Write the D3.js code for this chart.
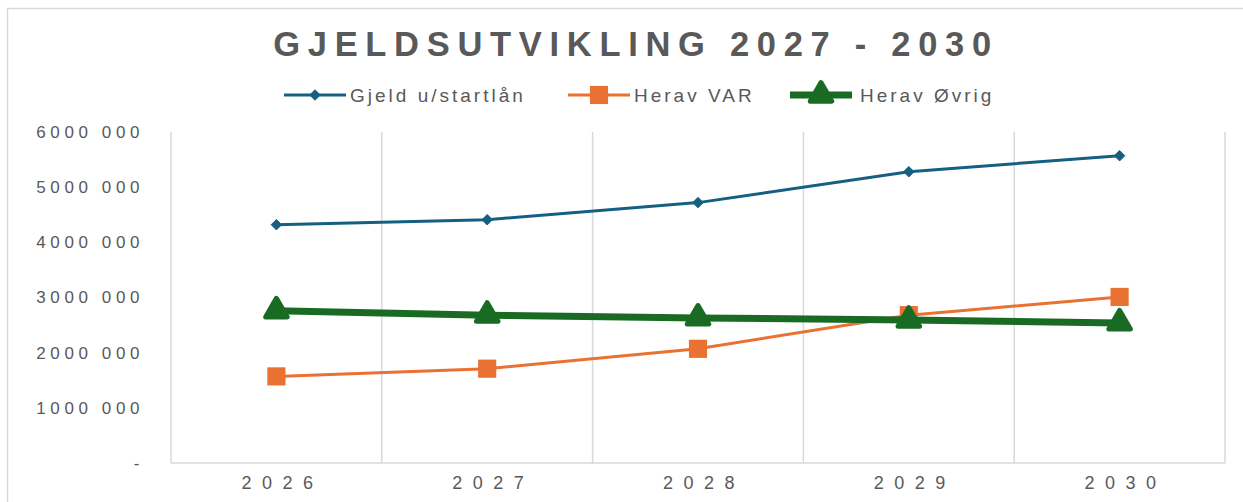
<!DOCTYPE html>
<html><head><meta charset="utf-8">
<script src="https://cdn.jsdelivr.net/npm/d3@7"></script>
<style>body{margin:0;background:#fff}svg{display:block}</style>
</head><body>
<svg id="c" width="1243" height="502"></svg>
<script>
const years = ["2026","2027","2028","2029","2030"];
const gjeld = [4320000, 4410000, 4720000, 5280000, 5570000];
const varVals = [1570000, 1710000, 2070000, 2680000, 3010000];
const ovrig = [2760000, 2680000, 2630000, 2590000, 2540000];
const yTicks = [0, 1000000, 2000000, 3000000, 4000000, 5000000, 6000000];
const seriesNames = ["Gjeld u/startlån", "Herav VAR", "Herav Øvrig"];
const titleText = "GJELDSUTVIKLING 2027 - 2030";

const svg = d3.select("#c");
const grey = "#595959", gridC = "#d9d9d9";
const font = "'Liberation Sans', Arial, sans-serif";

// outer border (top and left)
svg.append("path").attr("d","M7.5,502 V8.5 H1243").attr("fill","none").attr("stroke",gridC).attr("stroke-width",1.5);

const L = 171, R = 1225, T = 132, B = 463;
const x = d3.scaleBand().domain(years).range([L, R]);
const y = d3.scaleLinear().domain([0, 6000000]).range([B, T]);

// vertical gridlines at category boundaries
const bounds = years.map(d => x(d)).concat([R]);
svg.append("g").selectAll("line").data(bounds).join("line")
  .attr("x1", d => d).attr("x2", d => d).attr("y1", T).attr("y2", B)
  .attr("stroke", gridC).attr("stroke-width", 1.5);
svg.append("line").attr("x1", L).attr("x2", R).attr("y1", B).attr("y2", B)
  .attr("stroke", gridC).attr("stroke-width", 1.5);

// y axis labels
const fmt = d => d === 0 ? "-" : d3.format(",")(d).replace(/,(\d{3})$/, " $1").replace(/,/g, "");
const yAxis = d3.axisLeft(y).tickValues(yTicks).tickSize(0).tickPadding(0).tickFormat(fmt);
const gy = svg.append("g").attr("transform", `translate(144,0)`).call(yAxis);
gy.select(".domain").remove();
gy.selectAll("text").attr("fill", grey).attr("font-family", font).attr("font-size", 17)
  .attr("letter-spacing", "4.6px");

// x axis labels
const xAxis = d3.axisBottom(x).tickSize(0).tickPadding(0);
const gx = svg.append("g").attr("transform", `translate(6,${B + 13})`).call(xAxis);
gx.select(".domain").remove();
gx.selectAll("text").attr("fill", grey).attr("font-family", font).attr("font-size", 18)
  .attr("letter-spacing", "10.5px");

const cx = d => x(d) + x.bandwidth() / 2;
const line = d3.line().x(d => cx(d[0])).y(d => y(d[1]));

const series = [
  {name: seriesNames[0], vals: gjeld, color: "#156082", w: 3, sym: d3.symbolDiamond2, size: 70},
  {name: seriesNames[1], vals: varVals, color: "#e97132", w: 3, sym: d3.symbolSquare, size: 330},
  {name: seriesNames[2], vals: ovrig, color: "#196b24", w: 7, sym: d3.symbolTriangle, size: 200}
];

series.forEach((s, i) => {
  const pts = years.map((yr, j) => [yr, s.vals[j]]);
  svg.append("path").datum(pts).attr("d", line).attr("fill", "none")
    .attr("stroke", s.color).attr("stroke-width", s.w).attr("stroke-linejoin", "round");
  svg.append("g").selectAll("path").data(pts).join("path")
    .attr("d", d3.symbol(s.sym, s.size))
    .attr("transform", d => `translate(${cx(d[0])},${y(d[1])})`)
    .attr("fill", s.color)
    .attr("stroke", s.color)
    .attr("stroke-width", i === 2 ? 5 : (i === 0 ? 1 : 0))
    .attr("stroke-linejoin", "round");
});

// title
svg.append("text").attr("x", 636).attr("y", 56).attr("text-anchor", "middle")
  .attr("font-family", font).attr("font-weight", "bold").attr("font-size", 34.5)
  .attr("letter-spacing", "7.7px").attr("fill", grey).text(titleText);

// legend
const legX = [284, 568, 790];
const lg = svg.append("g");
series.forEach((s, i) => {
  const g = lg.append("g").attr("transform", `translate(${legX[i]},95)`);
  g.append("line").attr("x1", 0).attr("x2", 62).attr("y1", 0).attr("y2", 0)
    .attr("stroke", s.color).attr("stroke-width", s.w);
  g.append("path").attr("d", d3.symbol(s.sym, s.size)).attr("transform", "translate(31,0)")
    .attr("fill", s.color).attr("stroke", s.color)
    .attr("stroke-width", i === 2 ? 5 : (i === 0 ? 1 : 0)).attr("stroke-linejoin", "round");
  g.append("text").attr("x", 66 + (i === 2 ? 4 : 0)).attr("y", 6.5).attr("font-family", font)
    .attr("font-size", 19).attr("letter-spacing", "3px").attr("fill", grey).text(s.name);
});
</script>
</body></html>
